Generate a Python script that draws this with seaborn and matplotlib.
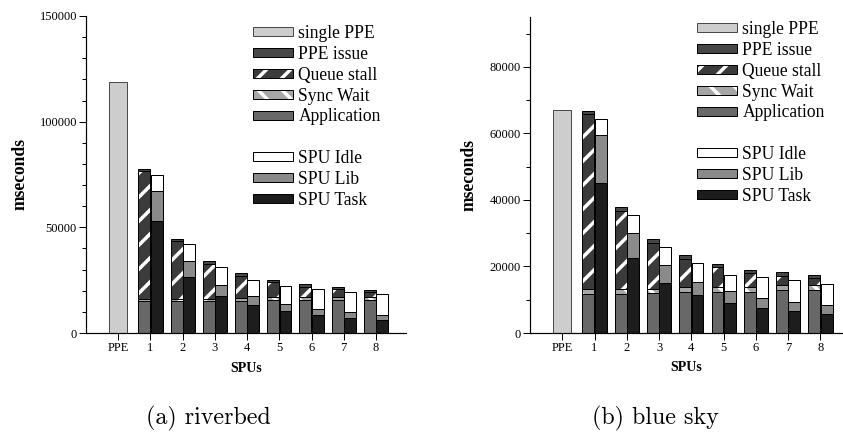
import numpy as np
import matplotlib
matplotlib.use("Agg")
import matplotlib.pyplot as plt
import seaborn as sns
from matplotlib.patches import Patch
from matplotlib.legend_handler import HandlerTuple
from matplotlib.ticker import MultipleLocator

# ---------------------------------------------------------------- data
spu_counts = [1, 2, 3, 4, 5, 6, 7, 8]
x_tick_labels = ["PPE", "1", "2", "3", "4", "5", "6", "7", "8"]

# (a) riverbed
rb_single_ppe = 119000
rb_application = [15000, 15000, 15300, 15300, 15500, 15500, 15500, 15500]
rb_sync_wait = [1100, 1100, 1000, 1300, 1300, 1300, 1300, 1300]
rb_queue_stall = [60400, 27200, 16300, 10200, 7500, 5000, 3900, 2500]
rb_ppe_issue = [1100, 1300, 1300, 1600, 1000, 1200, 900, 1200]
rb_spu_task = [53100, 26600, 17600, 13400, 10300, 8400, 7300, 6300]
rb_spu_lib = [13900, 7300, 5200, 4200, 3600, 3100, 2600, 2400]
rb_spu_idle = [7900, 8200, 8200, 7600, 8300, 9300, 9500, 9600]

# (b) blue sky
bs_single_ppe = 67000
bs_application = [11800, 11800, 12000, 12200, 12400, 12400, 13000, 13000]
bs_sync_wait = [1300, 1300, 1300, 1500, 1400, 1400, 1400, 1300]
bs_queue_stall = [52700, 23600, 13700, 8500, 6000, 4200, 2800, 2100]
bs_ppe_issue = [1000, 1100, 1200, 1300, 1000, 1000, 1000, 1000]
bs_spu_task = [45200, 22600, 15100, 11300, 9000, 7500, 6500, 5800]
bs_spu_lib = [14200, 7600, 5300, 4100, 3600, 3000, 2900, 2700]
bs_spu_idle = [4800, 5200, 5600, 5600, 4700, 6200, 6400, 6300]

# ---------------------------------------------------------------- style
sns.set_theme(style="ticks")
plt.rcParams["font.family"] = ["Liberation Serif", "DejaVu Serif"]
plt.rcParams["hatch.linewidth"] = 3.5
for key in ("text.color", "axes.labelcolor", "xtick.color", "ytick.color", "axes.edgecolor"):
    plt.rcParams[key] = "black"

C_SINGLE, C_SINGLE_EDGE = "#cdcdcd", "#4a4a4a"
C_ISSUE = "#474747"
C_QUEUE = "#3b3b3b"
C_SYNC = "#a6a6a6"
C_APP = "#686868"
C_IDLE = "#ffffff"
C_LIB = "#8a8a8a"
C_TASK = "#1d1d1d"
EDGE_LW = 1.0

W, H, DPI = 843, 441, 72
fig = plt.figure(figsize=(W / DPI, H / DPI), dpi=DPI)


def px_axes(x0, y0, x1, y1):
    return fig.add_axes([x0 / W, 1 - y1 / H, (x1 - x0) / W, (y1 - y0) / H])


BAR_W = 0.37
OFF = 0.19
PPE_W = 0.57


def solid(ax, xs, heights, width, face, edge="black"):
    sns.barplot(x=xs, y=heights, native_scale=True, width=width, color=face,
                saturation=1, edgecolor=edge, linewidth=EDGE_LW,
                errorbar=None, ax=ax)


def hatched(ax, xs, heights, width, face, hatch):
    sns.barplot(x=xs, y=heights, native_scale=True, width=width, color=face,
                saturation=1, edgecolor="white", linewidth=0, hatch=hatch,
                errorbar=None, ax=ax)
    sns.barplot(x=xs, y=heights, native_scale=True, width=width, color="black",
                fill=False, linewidth=EDGE_LW, errorbar=None, ax=ax)


def panel(ax, single, app, sync, queue, issue, task, lib, idle, ymax, major):
    counts = np.array(spu_counts, dtype=float)
    app, sync, queue, issue = map(np.asarray, (app, sync, queue, issue))
    task, lib, idle = map(np.asarray, (task, lib, idle))

    solid(ax, [0.0], [single], PPE_W, C_SINGLE, C_SINGLE_EDGE)

    left = counts - OFF
    solid(ax, left, app + sync + queue + issue, BAR_W, C_ISSUE)
    hatched(ax, left, app + sync + queue, BAR_W, C_QUEUE, "/")
    hatched(ax, left, app + sync, BAR_W, C_SYNC, "\\")
    solid(ax, left, app, BAR_W, C_APP)

    right = counts + OFF
    solid(ax, right, task + lib + idle, BAR_W, C_IDLE)
    solid(ax, right, task + lib, BAR_W, C_LIB)
    solid(ax, right, task, BAR_W, C_TASK)

    ax.set_ylim(0, ymax)
    ax.yaxis.set_major_locator(MultipleLocator(major))
    ax.yaxis.set_minor_locator(MultipleLocator(10000))
    ax.set_xticks(range(len(x_tick_labels)))
    ax.set_xticklabels(x_tick_labels)
    ax.tick_params(axis="both", which="major", length=7, width=1, labelsize=12.5, pad=2)
    ax.tick_params(axis="y", which="minor", length=4, width=1)
    for side in ("top", "right"):
        ax.spines[side].set_visible(False)
    for side in ("left", "bottom"):
        ax.spines[side].set_linewidth(1.2)
    ax.set_ylabel("mseconds", fontsize=17.5, fontweight="bold")
    ax.set_xlabel("SPUs", fontsize=14, fontweight="bold")


def legend(ax, x_px, y_px):
    outline = dict(facecolor="none", edgecolor="black", linewidth=EDGE_LW)
    handles = [
        Patch(facecolor=C_SINGLE, edgecolor=C_SINGLE_EDGE, linewidth=EDGE_LW),
        Patch(facecolor=C_ISSUE, edgecolor="black", linewidth=EDGE_LW),
        (Patch(facecolor=C_QUEUE, edgecolor="white", linewidth=0, hatch="/"), Patch(**outline)),
        (Patch(facecolor=C_SYNC, edgecolor="white", linewidth=0, hatch="\\"), Patch(**outline)),
        Patch(facecolor=C_APP, edgecolor="black", linewidth=EDGE_LW),
        Patch(facecolor="none", edgecolor="none"),
        Patch(facecolor=C_IDLE, edgecolor="black", linewidth=EDGE_LW),
        Patch(facecolor=C_LIB, edgecolor="black", linewidth=EDGE_LW),
        Patch(facecolor=C_TASK, edgecolor="black", linewidth=EDGE_LW),
    ]
    labels = ["single PPE", "PPE issue", "Queue stall", "Sync Wait", "Application",
              "", "SPU Idle", "SPU Lib", "SPU Task"]
    ax.legend(handles, labels, handler_map={tuple: HandlerTuple(ndivide=1, pad=0)},
              loc="upper left", bbox_to_anchor=(x_px / W, 1 - y_px / H),
              bbox_transform=fig.transFigure, frameon=False, fontsize=17.5,
              handlelength=2.3, handleheight=0.42, handletextpad=0.3,
              labelspacing=0.22, borderpad=0, borderaxespad=0)


ax_a = px_axes(86, 16, 406, 333)
panel(ax_a, rb_single_ppe, rb_application, rb_sync_wait, rb_queue_stall, rb_ppe_issue,
      rb_spu_task, rb_spu_lib, rb_spu_idle, 150000, 50000)
ax_a.set_xlim(-1, 8.93)
ax_a.yaxis.set_label_coords(-0.18, 0.5)
ax_a.xaxis.set_label_coords(0.5, -0.09)
legend(ax_a, 253, 25)

ax_b = px_axes(530, 17, 843, 333)
panel(ax_b, bs_single_ppe, bs_application, bs_sync_wait, bs_queue_stall, bs_ppe_issue,
      bs_spu_task, bs_spu_lib, bs_spu_idle, 95000, 20000)
ax_b.set_xlim(-1, 8.7)
ax_b.yaxis.set_label_coords(-0.168, 0.5)
ax_b.xaxis.set_label_coords(0.5, -0.09)
legend(ax_b, 697, 21)

fig.text(208 / W, 1 - 418 / H, "(a) riverbed", ha="center", va="center",
         family="cmr10", fontsize=24)
fig.text(655 / W, 1 - 418 / H, "(b) blue sky", ha="center", va="center",
         family="cmr10", fontsize=24)

fig.savefig("out.png", dpi=DPI)
